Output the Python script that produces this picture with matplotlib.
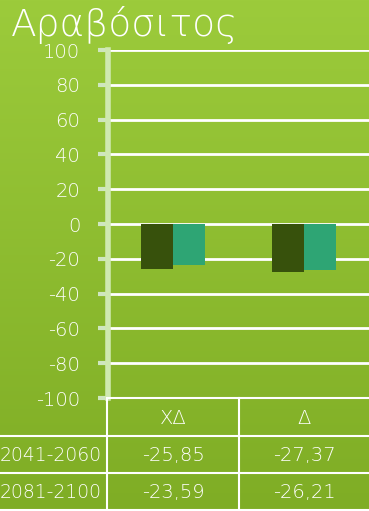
import numpy as np
import matplotlib
matplotlib.use("Agg")
import matplotlib.pyplot as plt
from matplotlib.lines import Line2D

title = "Αραβόσιτος"
categories = ["ΧΔ", "Δ"]
series_names = ["2041-2060", "2081-2100"]
values_2041 = [-25.85, -27.37]
values_2081 = [-23.59, -26.21]
yticks = [-100, -80, -60, -40, -20, 0, 20, 40, 60, 80, 100]

W, H = 369, 511
fig = plt.figure(figsize=(W / 100, H / 100), dpi=100)
plt.rcParams['font.family'] = ['DejaVu Sans']
FW = 'light'

# gradient background
bg = fig.add_axes([0, 0, 1, 1])
grad = np.linspace(0, 1, 256)[:, None]
top = np.array([0x9c, 0xcb, 0x3b]) / 255
bot = np.array([0x7f, 0xad, 0x25]) / 255
img = top[None, None, :] * (1 - grad[..., None]) + bot[None, None, :] * grad[..., None]
bg.imshow(img, aspect='auto', extent=[0, 1, 0, 1])
bg.set_axis_off()

def fx(x):
    return x / W

def fy(y):
    return 1 - y / H

ax_l, ax_t, ax_b = 108, 50, 398
ax = fig.add_axes([fx(ax_l), fy(ax_b), 1 - fx(ax_l), (ax_b - ax_t) / H])
ax.patch.set_alpha(0)
x = np.arange(len(categories))
bw = 0.245
ax.bar(x - bw / 2, values_2041, bw, color='#37510c', zorder=3)
ax.bar(x + bw / 2, values_2081, bw, color='#2ea574', zorder=3)
ax.set_xlim(-0.5, len(categories) - 0.5)
ax.set_ylim(-100, 100)
ax.set_yticks(yticks)
ax.set_yticklabels([str(v) for v in yticks], color='white', fontsize=14, fontweight=FW)
ax.set_xticks([])
ax.grid(axis='y', color='white', linewidth=2, zorder=1)
for s in ['top', 'right', 'bottom']:
    ax.spines[s].set_visible(False)
ax.spines['left'].set_color('#cfe9b0')
ax.spines['left'].set_linewidth(4)
ax.tick_params(axis='y', length=7, width=3, color='#cfe6c0', pad=13)

# title
fig.text(fx(11), fy(36), title, color='white', fontsize=27, va='baseline', ha='left',
         fontweight=FW)

# table
lines = [
    ((108, 369), (398, 398)),
    ((0, 369), (436, 436)),
    ((0, 369), (473, 473)),
    ((0, 369), (510, 510)),
    ((107, 107), (398, 511)),
    ((239, 239), (398, 511)),
]
for xs, ys in lines:
    fig.add_artist(Line2D([fx(xs[0]), fx(xs[1])], [fy(ys[0]), fy(ys[1])],
                          color='white', linewidth=1.5))

col_centers = [173, 304]
for c, cx in zip(categories, col_centers):
    fig.text(fx(cx), fy(418), c, color='white', fontsize=14, ha='center', va='center',
             fontweight=FW)
rows_y = [455, 492]
for name, vals, ry in zip(series_names, [values_2041, values_2081], rows_y):
    fig.text(fx(102), fy(ry), name, color='white', fontsize=13.5, ha='right', va='center',
             fontweight=FW)
    for v, cx in zip(vals, col_centers):
        fig.text(fx(cx), fy(ry), f"{v:.2f}".replace('.', ','), color='white',
                 fontsize=14, ha='center', va='center', fontweight=FW)

fig.savefig("out.png", dpi=100)
